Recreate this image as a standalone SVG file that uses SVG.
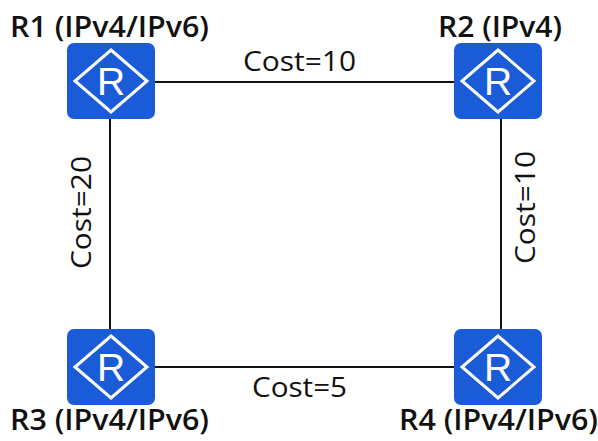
<svg xmlns="http://www.w3.org/2000/svg" width="598" height="441" viewBox="0 0 598 441">
<defs>
<style>
.t{font-family:"Open Sans","Noto Sans",sans-serif;fill:#111}
.b{font-size:28px;font-weight:600}
.c{font-size:28px}
.l{stroke:#111;stroke-width:2;fill:none}
</style>
<g id="router">
<rect x="0" y="0" width="88" height="76" rx="7" fill="#1a5cd8"/>
<path d="M44 7L80 38L44 69L8 38Z" fill="none" stroke="#fff" stroke-width="3"/>
<text x="44" y="52" text-anchor="middle" style="font-family:'Liberation Sans',sans-serif;font-size:39px;fill:#fff">R</text>
</g>
</defs>
<rect width="598" height="441" fill="#fff"/>
<g id="connectors">
<line class="l" x1="155" y1="82" x2="455" y2="82"/>
<line class="l" x1="110" y1="119" x2="110" y2="329"/>
<line class="l" x1="501" y1="119" x2="501" y2="329"/>
<line class="l" x1="155" y1="367" x2="455" y2="367"/>
</g>
<g id="r1"><use href="#router" x="67" y="43"/><text class="t b" x="10" y="37" textLength="199" lengthAdjust="spacingAndGlyphs">R1 (IPv4/IPv6)</text></g>
<g id="r2"><use href="#router" x="454" y="43"/><text class="t b" x="438" y="37" textLength="124" lengthAdjust="spacingAndGlyphs">R2 (IPv4)</text></g>
<g id="r3"><use href="#router" x="67" y="329"/><text class="t b" x="10" y="430" textLength="199" lengthAdjust="spacingAndGlyphs">R3 (IPv4/IPv6)</text></g>
<g id="r4"><use href="#router" x="454" y="329"/><text class="t b" x="399" y="430" textLength="199" lengthAdjust="spacingAndGlyphs">R4 (IPv4/IPv6)</text></g>
<g id="labels">
<text class="t c" x="243" y="71" textLength="113" lengthAdjust="spacingAndGlyphs">Cost=10</text>
<text class="t c" x="252" y="397" textLength="95" lengthAdjust="spacingAndGlyphs">Cost=5</text>
<text class="t c" transform="translate(91 269) rotate(-90)" textLength="113" lengthAdjust="spacingAndGlyphs">Cost=20</text>
<text class="t c" transform="translate(535 264) rotate(-90)" textLength="113" lengthAdjust="spacingAndGlyphs">Cost=10</text>
</g>
</svg>
